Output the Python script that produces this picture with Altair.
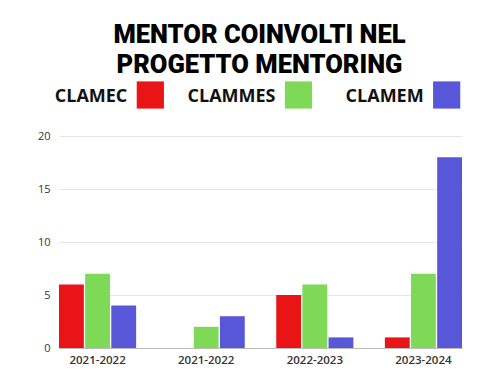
import json
import altair as alt
import pandas as pd

periods = ["2021-2022", "2021-2022", "2022-2023", "2023-2024"]
series = ["CLAMEC", "CLAMMES", "CLAMEM"]
colors = ["#E81416", "#7ED957", "#5757D8"]
clamec = [6, 0, 5, 1]
clammes = [7, 2, 6, 7]
clamem = [4, 3, 1, 18]

rows = []
for i, p in enumerate(periods):
    for s, vals in zip(series, [clamec, clammes, clamem]):
        rows.append({"idx": i, "period": p, "series": s, "value": vals[i]})
df = pd.DataFrame(rows)
leg = pd.DataFrame({"series": series})

label_expr = json.dumps(periods) + "[datum.value]"
color_scale = alt.Scale(domain=series, range=colors)

bars = alt.Chart(df).mark_bar().encode(
    x=alt.X("idx:O", title=None,
            scale=alt.Scale(paddingInner=0.29, paddingOuter=0),
            axis=alt.Axis(labelExpr=label_expr, labelAngle=0, ticks=False,
                          domainColor="#bbbbbb", labelFont="Open Sans",
                          labelFontSize=11.5, labelFontWeight=600,
                          labelColor="#333333", labelPadding=6)),
    xOffset=alt.XOffset("series:N", sort=series,
                        scale=alt.Scale(domain=series, paddingInner=0.05)),
    y=alt.Y("value:Q", title=None, scale=alt.Scale(domain=[0, 20]),
            axis=alt.Axis(values=[0, 5, 10, 15, 20], ticks=False, domain=False,
                          gridColor="#e6e6e6", labelFont="Open Sans",
                          labelFontSize=11, labelColor="#333333",
                          labelPadding=9, minExtent=46)),
    color=alt.Color("series:N", scale=color_scale, legend=None),
).properties(width=403, height=212)

lx = alt.X("series:N", sort=series, axis=None,
           scale=alt.Scale(type="point", domain=series, padding=0.36))
legend_text = alt.Chart(leg).mark_text(
    align="right", baseline="middle", dx=15, font="Open Sans",
    fontSize=18, fontWeight="bold", color="#111111"
).encode(x=lx, y=alt.value(17), text="series:N")
legend_sq = alt.Chart(leg).mark_square(
    size=740, opacity=1, xOffset=38
).encode(x=lx, y=alt.value(15),
         color=alt.Color("series:N", scale=color_scale, legend=None))
legend_chart = alt.layer(legend_text, legend_sq).properties(width=403, height=30)

chart = alt.vconcat(legend_chart, bars, spacing=20).properties(
    padding={"top": 14, "left": 5, "right": 5, "bottom": 5},
    title=alt.TitleParams(
        ["MENTOR COINVOLTI NEL", "PROGETTO MENTORING"],
        font="Roboto", fontSize=25.5, fontWeight=900, lineHeight=30,
        color="#000000", anchor="middle", offset=2, dx=22),
).configure_view(stroke=None)

chart.save("out.html", embed_options={"renderer": "svg", "actions": False})
